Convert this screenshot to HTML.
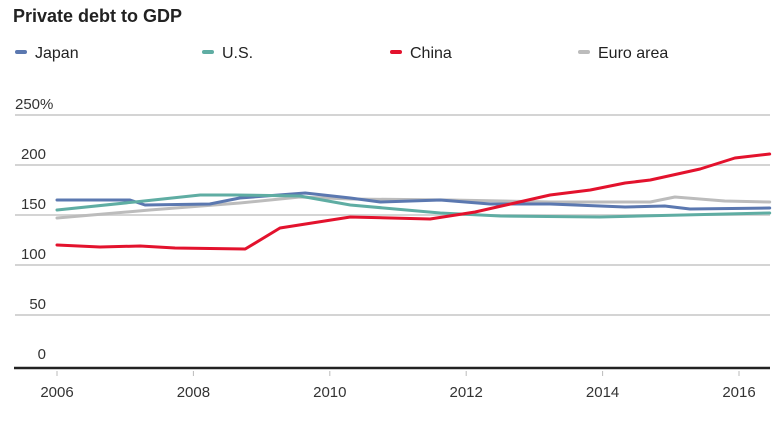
<!DOCTYPE html>
<html><head><meta charset="utf-8"><style>
body{margin:0;background:#fff;width:776px;height:417px;overflow:hidden;font-family:"Liberation Sans",sans-serif;}
svg text{font-family:"Liberation Sans",sans-serif;}
</style></head><body>
<svg id="chart" width="776" height="417" xmlns="http://www.w3.org/2000/svg">
<text x="13" y="22" font-size="18" font-weight="bold" fill="#222">Private debt to GDP</text>
<g id="legend"></g>
<g id="grid"></g>
<g id="series"></g>
<g id="xaxis"></g>
</svg>
<script>
const yTicks=[0,50,100,150,200,250];
const yTickLabels=["0","50","100","150","200","250%"];
const xTicks=[2006,2008,2010,2012,2014,2016];
const japanYears=[2006,2007.07,2007.29,2008.24,2008.68,2009.64,2010.3,2010.74,2011.62,2012.35,2013.23,2014.33,2014.91,2015.28,2016.45];
const japanValues=[165,165,160,161,167,172,167,163,165,161,161,158,159,156,157];
const usYears=[2006,2007.14,2008.1,2008.61,2009.56,2010.3,2011.62,2012.5,2013.96,2016.45];
const usValues=[155,163,170,170,169,160,152,149,148,152];
const euroYears=[2006,2007.36,2008.68,2009.56,2010.3,2011.76,2013.23,2014.7,2015.06,2015.79,2016.45];
const euroValues=[147,155,162,168,166,165,163,163,168,164,163];
const chinaYears=[2006,2006.63,2007.22,2007.73,2008.76,2009.27,2010.3,2011.47,2012.13,2013.23,2013.82,2014.33,2014.7,2015.43,2015.94,2016.45];
const chinaValues=[120,118,119,117,116,137,148,146,153,170,175,182,185,196,207,211];
const seriesNames=["Japan","U.S.","China","Euro area"];
const seriesColors=["#5b78b0","#5fada3","#e3122d","#bcbcbc"];

const NS="http://www.w3.org/2000/svg";
const xS=y=>57+(y-2006)*68.2;
const yS=v=>365-v*1.0;
function mk(t,a,p){const e=document.createElementNS(NS,t);for(const k in a)e.setAttribute(k,a[k]);p.appendChild(e);return e;}
const grid=document.getElementById('grid');
yTicks.forEach((v,i)=>{
  if(v>0){const l=mk('line',{x1:15,x2:770,y1:yS(v),y2:yS(v),stroke:'#d4d4d4','stroke-width':2},grid);
  
  }
  const isTop=i===yTicks.length-1;
  const t=mk('text',{x:isTop?15:46,y:yS(v)-6,'font-size':15,fill:'#333','text-anchor':isTop?'start':'end'},grid);
  t.textContent=yTickLabels[i];
  
  
});
const xa=document.getElementById('xaxis');
const ax=mk('line',{x1:14,x2:770,y1:368,y2:368,stroke:'#222','stroke-width':2.5},xa);


xTicks.forEach(y=>{
  const tk=mk('line',{x1:xS(y),x2:xS(y),y1:371,y2:376,stroke:'#bbb','stroke-width':1},xa);
  
  
  const t=mk('text',{x:xS(y),y:397,'font-size':15,fill:'#333','text-anchor':'middle'},xa);
  t.textContent=y;
  
  
});
const sg=document.getElementById('series');
const data=[[euroYears,euroValues,3],[japanYears,japanValues,0],[usYears,usValues,1],[chinaYears,chinaValues,2]];
data.forEach(([xs,vs,ci])=>{
  const d=xs.map((x,i)=>(i?'L':'M')+xS(x).toFixed(1)+' '+yS(vs[i]).toFixed(1)).join(' ');
  const p=mk('path',{d:d,fill:'none',stroke:seriesColors[ci],'stroke-width':3,'stroke-linejoin':'round','stroke-linecap':'round'},sg);
  
  
});
const lg=document.getElementById('legend');
const lx=[15,202,390,578];
seriesNames.forEach((n,i)=>{
  const g=mk('g',{},lg);
  
  
  mk('rect',{x:lx[i],y:50,width:12,height:4,rx:2,fill:seriesColors[i]},g);
  const t=mk('text',{x:lx[i]+20,y:58,'font-size':16,fill:'#222'},g);
  t.textContent=n;
});
</script>
</body></html>
